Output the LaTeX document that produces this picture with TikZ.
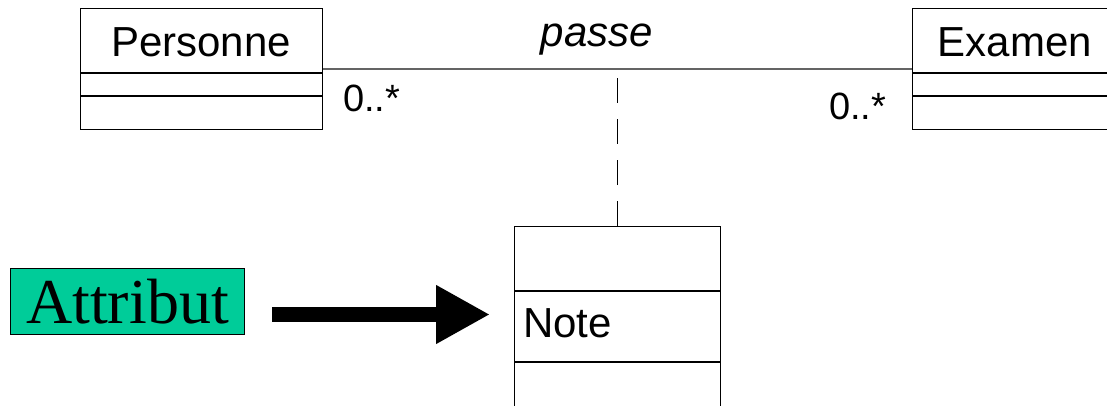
\documentclass[tikz,border=0pt]{standalone}
\usepackage{fontspec}
\setmainfont{Liberation Sans}
\newfontfamily\serifface{Liberation Serif}
\usetikzlibrary{calc,arrows.meta}
\definecolor{attrgreen}{RGB}{0,204,153}
\definecolor{assocgray}{RGB}{100,100,100}

\begin{document}
\begin{tikzpicture}[x=1pt,y=-1pt,
  classbox/.style={draw=black, line width=1.2pt, rectangle, inner sep=0pt, anchor=north west},
  divider/.style={draw=black, line width=1.2pt},
  classname/.style={font=\fontsize{42}{50}\selectfont, inner sep=0pt, anchor=base},
  mult/.style={font=\fontsize{38}{46}\selectfont, inner sep=0pt, anchor=base west},
  assoc/.style={draw=assocgray, line width=1.8pt},
  linkline/.style={draw=black, line width=1pt, dash pattern=on 25pt off 16pt},
  bigarrow/.style={line width=15pt, -{Triangle[length=54pt,width=55pt]}}]
\useasboundingbox (0,0) rectangle (1107,406);
\clip (0,0) rectangle (1107,406);

% Class boxes
\node[classbox, minimum width=242pt, minimum height=121pt] (personne) at (80,8) {};
\node[classbox, minimum width=206pt, minimum height=121pt] (examen) at (912,8) {};
\node[classbox, minimum width=206pt, minimum height=200pt] (note) at (514,226) {};

% Compartment dividers
\foreach \b/\d in {personne/65, personne/88, examen/65, examen/88, note/65, note/136}{
  \draw[divider] ($(\b.north west)+(0,\d)$) -- ($(\b.north east)+(0,\d)$);
}

% Class names and attribute
\node[classname] (tpersonne) at (201,57) {Personne};
\node[classname] (texamen) at (1015,57) {Examen};
\node[classname, anchor=base west] (tnote) at (523,337) {Note};

% Association with its name and multiplicities
\draw[assoc] (personne.east) -- (examen.west);
\node[classname, font=\fontsize{42}{50}\selectfont\itshape] (passe) at (597,47) {passe};
\node[mult] (m1) at (343,112) {0..*};
\node[mult] (m2) at (829,120) {0..*};

% Association class link
\coordinate (linktop) at (note.north |- personne.east);
\draw[linkline] (note.north) -- (linktop);

% Attribute label and pointer
\node[draw=black, line width=1pt, fill=attrgreen, anchor=north west, minimum width=234pt, minimum height=66pt, inner sep=0pt,
      font=\serifface\fontsize{64}{70}\selectfont] (attr) at (10,268) {Attribut};
\coordinate (arrowstart) at (272,314.5);
\coordinate (arrowend) at (490,314.5);
\draw[bigarrow] (arrowstart) -- (arrowend);
\end{tikzpicture}
\end{document}
